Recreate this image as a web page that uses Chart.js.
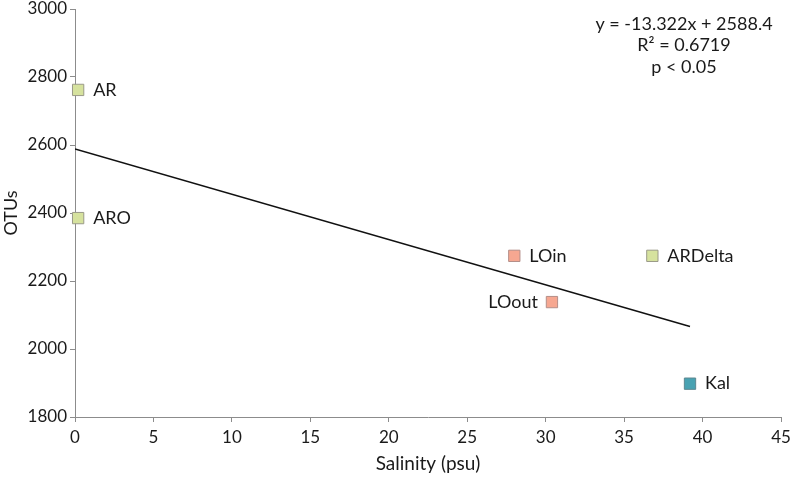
<!DOCTYPE html>
<html>
<head>
<meta charset="utf-8">
<script src="https://cdn.jsdelivr.net/npm/chart.js@4/dist/chart.umd.min.js"></script>
<style>
  html, body { margin: 0; padding: 0; background: #fff; }
  #wrap { width: 800px; height: 479px; }
</style>
</head>
<body>
<div id="wrap"><canvas id="c" width="800" height="479"></canvas></div>
<script>
const siteNames = ['AR', 'ARO', 'LOin', 'LOout', 'ARDelta', 'Kal'];
const salinity = [0.2, 0.2, 28.0, 30.4, 36.8, 39.2];
const otus = [2762, 2385, 2274, 2138, 2274, 1898];
const siteGroup = ['river', 'river', 'lagoon', 'lagoon', 'river', 'sea'];
const labelSide = ['right', 'right', 'right', 'left', 'right', 'right'];
const trendX = [0, 39.2];
const trendY = [2588.4, 2066.2];
const equationLines = ['y = -13.322x + 2588.4', 'R² = 0.6719', 'p < 0.05'];
const xTicks = [0, 5, 10, 15, 20, 25, 30, 35, 40, 45];
const yTicks = [1800, 2000, 2200, 2400, 2600, 2800, 3000];

const groupFill = { river: '#d6e29e', lagoon: '#f6a791', sea: '#48a2b2' };
const groupBorder = { river: '#9a9a88', lagoon: '#b48e88', sea: '#5d8790' };
const FONT = 'Lato, "Open Sans", sans-serif';

const labelPlugin = {
  id: 'labels',
  afterDatasetsDraw(chart) {
    const ctx = chart.ctx;
    const xs = chart.scales.x, ys = chart.scales.y;
    ctx.save();
    ctx.font = '18px ' + FONT;
    ctx.fillStyle = '#1a1a1a';
    ctx.textBaseline = 'middle';
    siteNames.forEach((n, i) => {
      const px = xs.getPixelForValue(salinity[i]);
      const py = ys.getPixelForValue(otus[i]);
      if (labelSide[i] === 'left') {
        ctx.textAlign = 'right';
        ctx.fillText(n, px - 14, py);
      } else {
        ctx.textAlign = 'left';
        ctx.fillText(n, px + 15, py);
      }
    });
    ctx.textAlign = 'center';
    equationLines.forEach((t, i) => {
      ctx.fillText(t, 684, 24 + i * 21.5);
    });
    ctx.restore();
  }
};

new Chart(document.getElementById('c'), {
  type: 'scatter',
  data: {
    datasets: [
      {
        label: 'Sites',
        data: salinity.map((x, i) => ({ x: x, y: otus[i] })),
        pointStyle: 'rect',
        pointRadius: 8,
        pointHoverRadius: 8,
        pointBackgroundColor: siteGroup.map(g => groupFill[g]),
        pointBorderColor: siteGroup.map(g => groupBorder[g]),
        pointBorderWidth: 1,
        clip: false,
        order: 1
      },
      {
        type: 'line',
        label: 'Trend',
        data: trendX.map((x, i) => ({ x: x, y: trendY[i] })),
        borderColor: '#111',
        borderWidth: 1.5,
        pointRadius: 0,
        fill: false,
        order: 2
      }
    ]
  },
  options: {
    responsive: false,
    animation: false,
    events: [],
    layout: { padding: { top: 8, right: 19, left: 0, bottom: 0 } },
    plugins: { legend: { display: false }, tooltip: { enabled: false } },
    scales: {
      x: {
        type: 'linear',
        min: 0, max: 45,
        afterBuildTicks: s => { s.ticks = xTicks.map(v => ({ value: v })); },
        afterFit: s => { s.height = 62; s.paddingLeft = 0; s.paddingRight = 0; },
        grid: { drawOnChartArea: false, drawTicks: true, tickLength: 5, color: '#8c8c8c' },
        border: { color: '#8c8c8c', width: 1 },
        ticks: { color: '#1a1a1a', font: { family: FONT, size: 17 }, padding: 5, maxRotation: 0, callback: v => String(v) },
        title: { display: true, text: 'Salinity (psu)', color: '#1a1a1a', font: { family: FONT, size: 19 }, padding: { top: 2, bottom: 4 } }
      },
      y: {
        type: 'linear',
        min: 1800, max: 3000,
        afterBuildTicks: s => { s.ticks = yTicks.map(v => ({ value: v })); },
        afterFit: s => { s.width = 75; s.paddingTop = 0; s.paddingBottom = 0; },
        grid: { drawOnChartArea: false, drawTicks: true, tickLength: 5, color: '#8c8c8c' },
        border: { color: '#8c8c8c', width: 1 },
        ticks: { color: '#1a1a1a', font: { family: FONT, size: 17 }, padding: 3, callback: v => String(v) },
        title: { display: true, text: 'OTUs', color: '#1a1a1a', font: { family: FONT, size: 18 }, padding: { top: 0, bottom: 2 } }
      }
    }
  },
  plugins: [labelPlugin]
});
</script>
</body>
</html>
